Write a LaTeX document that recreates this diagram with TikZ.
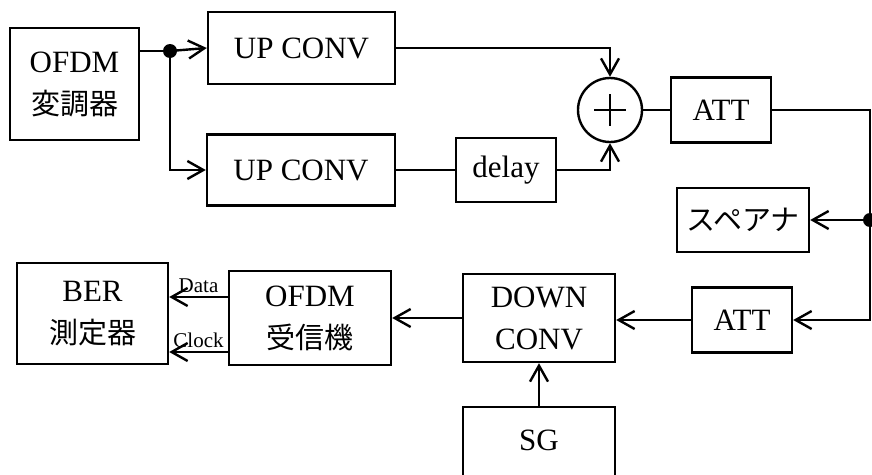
\documentclass[tikz,border=0pt]{standalone}
\usepackage{fontspec}
\setmainfont{Liberation Serif}
\newfontfamily\jpfont{Noto Sans CJK JP}
\usetikzlibrary{arrows.meta}
\newcommand\jp[1]{{\jpfont\fontsize{29}{42}\selectfont #1}}

\begin{document}
\begin{tikzpicture}[x=1pt,y=-1pt,
  box/.style={draw,line width=2.4pt,inner sep=0pt,align=center,font=\fontsize{31}{42}\selectfont},
  wire/.style={line width=2.4pt},
  >={Straight Barb[length=16pt,width=18pt]},
  lbl/.style={font=\fontsize{21}{24}\selectfont,inner sep=3pt}]
\clip (0,0) rectangle (872,474);
\node[box,minimum width=129,minimum height=112] (mod) at (74.5,84) {OFDM\\\jp{変調器}};
\node[box,minimum width=187,minimum height=72] (upA) at (301.5,48) {UP CONV};
\node[box,minimum width=188,minimum height=71] (upB) at (301,170) {UP CONV};
\node[box,minimum width=100,minimum height=64] (delay) at (506,170) {delay};
\node[draw,circle,line width=2.4pt,minimum size=64,inner sep=0pt] (sum) at (610,110) {};
\node[box,minimum width=100,minimum height=65] (attA) at (721,110) {ATT};
\node[box,minimum width=132,minimum height=64] (spec) at (743,220) {\jp{スペアナ}};
\node[box,minimum width=100,minimum height=65] (attB) at (742,320) {ATT};
\node[box,minimum width=152,minimum height=88] (down) at (539,318) {DOWN\\CONV};
\node[box,minimum width=152,minimum height=98,text height=20pt,text depth=32pt] (sg) at (539,456) {SG};
\node[box,minimum width=162,minimum height=94] (recv) at (310,318) {OFDM\\\jp{受信機}};
\node[box,minimum width=151,minimum height=101] (ber) at (92.5,313.5) {BER\\\jp{測定器}};
\coordinate (jn) at (170,51);
\coordinate (rt) at (870,220);

\draw[wire] (sum.center) ++(-16,0) -- ++(32,0);
\draw[wire] (sum.center) ++(0,-16) -- ++(0,32);

\draw[wire] (jn -| mod.east) -- (jn);
\fill (jn) circle (7pt);
\draw[wire,->] (jn) -- (upA.west);
\draw[wire,->] (jn) |- (upB.west);
\draw[wire,->] (upA.east) -| (sum.north);
\draw[wire] (upB.east) -- (delay.west);
\draw[wire,->] (delay.east) -| (sum.south);
\draw[wire] (sum.east) -- (attA.west);
\draw[wire,->] (attA.east) -| (rt) |- (attB.east);
\fill (rt) circle (7pt);
\draw[wire,->] (rt) -- (spec.east);
\draw[wire,->] (attB.west) -- (attB.west -| down.east);
\draw[wire,->] (sg.north) -- (down.south);
\draw[wire,->] (down.west) -- (recv.east);
\draw[wire,->] (recv.west |- 0,297) -- (ber.east |- 0,297) node[lbl,midway,above] {Data};
\draw[wire,->] (recv.west |- 0,352) -- (ber.east |- 0,352) node[lbl,midway,above] {Clock};
\end{tikzpicture}
\end{document}
